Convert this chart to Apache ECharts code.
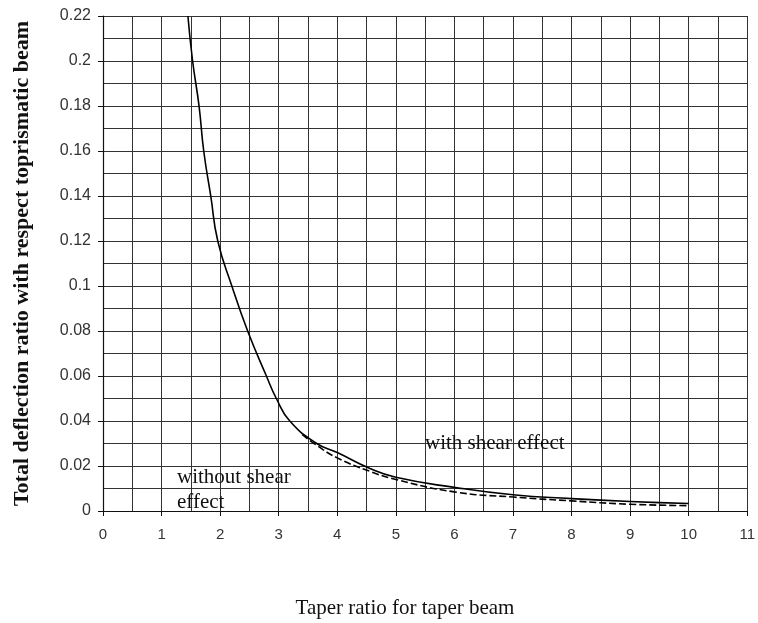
<!DOCTYPE html>
<html>
<head>
<meta charset="utf-8">
<script src="https://cdn.jsdelivr.net/npm/echarts@6/dist/echarts.min.js"></script>
<style>
  html, body { margin: 0; padding: 0; background: #fff; }
  #chart { width: 758px; height: 623px; }
</style>
</head>
<body>
<div id="chart"></div>
<script>
// taper ratio vs deflection ratio
const shearX = [1.45, 1.53, 1.64, 1.72, 1.84, 1.96, 2.2, 2.47, 2.79, 2.96, 3.19, 3.65, 4.0, 4.55, 5.0, 6.0, 7.0, 8.0, 9.0, 10.0];
const shearY = [0.22, 0.20, 0.18, 0.16, 0.14, 0.12, 0.10, 0.08, 0.06, 0.05, 0.04, 0.030, 0.026, 0.019, 0.015, 0.0105, 0.0072, 0.0055, 0.0042, 0.0033];

const noShearX = [3.4, 3.66, 4.0, 4.55, 5.0, 6.0, 7.0, 8.0, 9.0, 10.0];
const noShearY = [0.034, 0.029, 0.0236, 0.0177, 0.014, 0.0085, 0.0062, 0.0045, 0.003, 0.0024];

const xTicks = [0, 1, 2, 3, 4, 5, 6, 7, 8, 9, 10, 11];
const yTicks = [0, 0.02, 0.04, 0.06, 0.08, 0.1, 0.12, 0.14, 0.16, 0.18, 0.2, 0.22];

const serif = "'Liberation Serif', 'Times New Roman', serif";
const sans = "'Liberation Sans', Arial, sans-serif";
const gridLine = { color: "#333", width: 1 };

const chart = echarts.init(document.getElementById("chart"));

chart.setOption({
  animation: false,
  backgroundColor: "#fff",
  grid: { left: 103, right: 10, top: 16, bottom: 112, containLabel: false },
  xAxis: {
    type: "value",
    min: xTicks[0],
    max: xTicks[xTicks.length - 1],
    interval: 1,
    axisLine: { show: true, lineStyle: { color: "#111", width: 1.2 } },
    axisTick: { show: true, length: 5, lineStyle: { color: "#111" } },
    axisLabel: { margin: 16, fontFamily: sans, fontSize: 15, color: "#333" },
    splitLine: { show: true, lineStyle: gridLine },
    minorTick: { show: false, splitNumber: 2 },
    minorSplitLine: { show: true, lineStyle: gridLine },
  },
  yAxis: {
    type: "value",
    min: yTicks[0],
    max: yTicks[yTicks.length - 1],
    interval: 0.02,
    name: "Total deflection ratio with respect toprismatic beam",
    nameLocation: "middle",
    nameGap: 70,
    nameTextStyle: { fontFamily: serif, fontSize: 22, fontWeight: "bold", color: "#111" },
    axisLine: { show: true, lineStyle: { color: "#111", width: 1.2 } },
    axisTick: { show: true, length: 5, lineStyle: { color: "#111" } },
    axisLabel: {
      margin: 12,
      fontFamily: sans,
      fontSize: 16,
      color: "#333",
      formatter: (v) => String(Math.round(v * 100) / 100),
    },
    splitLine: { show: true, lineStyle: gridLine },
    minorTick: { show: false, splitNumber: 2 },
    minorSplitLine: { show: true, lineStyle: gridLine },
  },
  series: [
    {
      name: "with shear effect",
      type: "line",
      data: shearX.map((x, i) => [x, shearY[i]]),
      smooth: 0.5,
      showSymbol: false,
      lineStyle: { color: "#000", width: 1.6 },
      z: 5,
    },
    {
      name: "without shear effect",
      type: "line",
      data: noShearX.map((x, i) => [x, noShearY[i]]),
      smooth: 0.5,
      showSymbol: false,
      lineStyle: { color: "#000", width: 1.6, type: [7, 3] },
      z: 4,
    },
  ],
  graphic: [
    {
      type: "text",
      x: 425,
      y: 454,
      style: { text: "with shear effect", font: "21px " + serif, fill: "#111", textVerticalAlign: "bottom" },
      z: 10,
    },
    {
      type: "text",
      x: 177,
      y: 488,
      style: { text: "without shear", font: "21px " + serif, fill: "#111", textVerticalAlign: "bottom" },
      z: 10,
    },
    {
      type: "text",
      x: 177,
      y: 513,
      style: { text: "effect", font: "21px " + serif, fill: "#111", textVerticalAlign: "bottom" },
      z: 10,
    },
    {
      type: "text",
      x: 405,
      y: 608,
      style: {
        text: "Taper ratio for taper beam",
        font: "21px " + serif,
        fill: "#111",
        textAlign: "center",
        textVerticalAlign: "middle",
      },
    },
  ],
});
</script>
</body>
</html>
